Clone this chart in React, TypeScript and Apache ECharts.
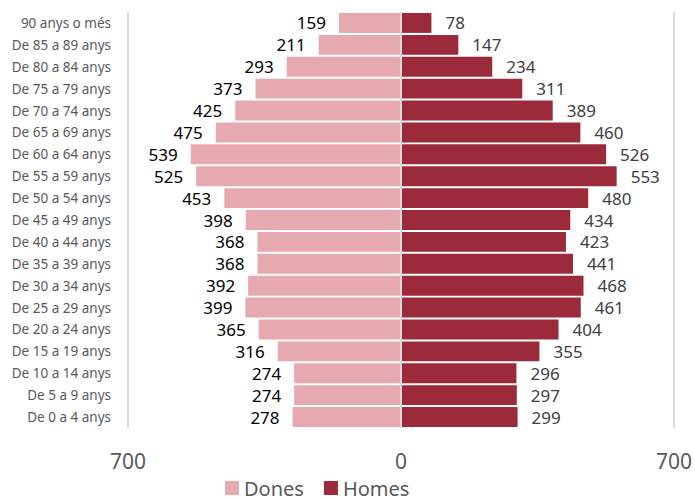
import React, { useEffect, useRef } from "react";
import * as echarts from "echarts";

const categories = [
  "De 0 a 4 anys", "De 5 a 9 anys", "De 10 a 14 anys", "De 15 a 19 anys",
  "De 20 a 24 anys", "De 25 a 29 anys", "De 30 a 34 anys", "De 35 a 39 anys",
  "De 40 a 44 anys", "De 45 a 49 anys", "De 50 a 54 anys", "De 55 a 59 anys",
  "De 60 a 64 anys", "De 65 a 69 anys", "De 70 a 74 anys", "De 75 a 79 anys",
  "De 80 a 84 anys", "De 85 a 89 anys", "90 anys o més",
];
const dones = [278, 274, 274, 316, 365, 399, 392, 368, 368, 398, 453, 525, 539, 475, 425, 373, 293, 211, 159];
const homes = [299, 297, 296, 355, 404, 461, 468, 441, 423, 434, 480, 553, 526, 460, 389, 311, 234, 147, 78];

const FONT = "Noto Sans";

export default function App() {
  const ref = useRef<HTMLDivElement>(null);
  useEffect(() => {
    const chart = echarts.init(ref.current!, null, { renderer: "svg" });
    chart.setOption({
      animation: false,
      textStyle: { fontFamily: FONT },
      grid: { left: 128, right: 18, top: 12, bottom: 72, containLabel: false },
      legend: {
        data: ["Dones", "Homes"],
        left: 225,
        top: 476,
        padding: 0,
        icon: "rect",
        itemWidth: 14,
        itemHeight: 14,
        itemGap: 20,
        textStyle: { fontSize: 20, color: "#595959", fontFamily: FONT, lineHeight: 24 },
      },
      xAxis: {
        type: "value",
        min: -700,
        max: 700,
        interval: 700,
        z: 5,
        axisLine: { show: false },
        axisTick: { show: false },
        splitLine: { show: true, lineStyle: { color: "#D9D9D9", width: 2 } },
        axisLabel: {
          formatter: (v: number) => String(Math.abs(v)),
          fontSize: 21,
          color: "#595959",
          margin: 22,
          fontFamily: FONT,
        },
      },
      yAxis: {
        type: "category",
        data: categories,
        position: "left",
        axisLine: { show: false, onZero: false },
        axisTick: { show: false },
        axisLabel: { fontSize: 13.5, color: "#595959", margin: 17, fontFamily: FONT },
      },
      series: [
        {
          name: "Dones",
          type: "bar",
          data: dones.map((v) => -v),
          barGap: "-100%",
          barCategoryGap: "9%",
          itemStyle: { color: "#E7A9B0" },
          label: {
            show: true,
            position: "left",
            distance: 13,
            formatter: (p: any) => String(Math.abs(p.value)),
            fontSize: 17,
            color: "#000000",
            fontFamily: FONT,
          },
        },
        {
          name: "Homes",
          type: "bar",
          data: homes,
          barGap: "-100%",
          barCategoryGap: "9%",
          itemStyle: { color: "#9B2A3A" },
          label: {
            show: true,
            position: "right",
            distance: 14,
            fontSize: 17,
            color: "#404040",
            fontFamily: FONT,
          },
        },
      ],
    });
    return () => chart.dispose();
  }, []);
  return <div ref={ref} style={{ width: 695, height: 500, position: "absolute", left: 0, top: 0 }} />;
}
